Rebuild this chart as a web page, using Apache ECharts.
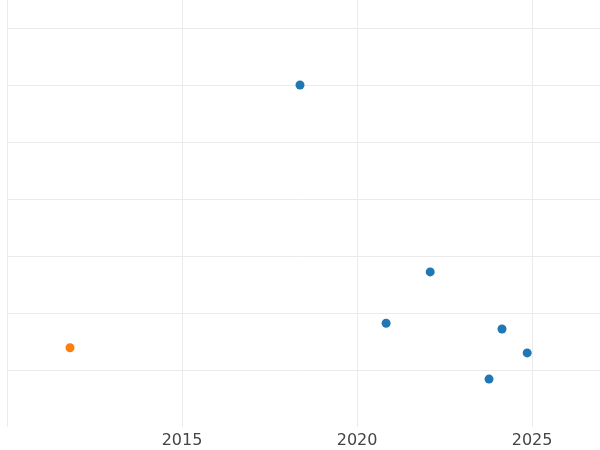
<!DOCTYPE html>
<html>
<head>
<meta charset="utf-8">
<script src="https://cdn.jsdelivr.net/npm/echarts@6/dist/echarts.min.js"></script>
<style>html,body{margin:0;padding:0;background:#fff}#chart{width:600px;height:450px}</style>
</head>
<body>
<div id="chart"></div>
<script>
// data
const blueYears = [2018.37, 2020.83, 2022.09, 2024.14, 2023.77, 2024.86];
const blueValues = [6.0, 1.82, 2.72, 1.72, 0.84, 1.30];
const orangeYears = [2011.8];
const orangeValues = [1.39];

let chart = echarts.init(document.getElementById("chart"));

const pairs = (xs, ys) => xs.map((x, i) => [x, ys[i]]);

chart.setOption({
    animation: false,
    grid: { left: 7, right: 0, top: 0, bottom: 23 },
    xAxis: {
        type: "value", min: 2010, max: 2026.94, interval: 5,
        axisLine: { show: false }, axisTick: { show: false },
        splitLine: { showMaxLine: false, lineStyle: { color: "#ebebeb" } },
        axisLabel: {
            showMinLabel: false, showMaxLabel: false, color: "#444",
            fontSize: 16, fontFamily: "DejaVu Sans", margin: 6,
            formatter: v => String(v)
        }
    },
    yAxis: {
        type: "value", min: 0, max: 7.49, interval: 1,
        axisLine: { show: false }, axisTick: { show: false },
        axisLabel: { show: false },
        splitLine: { showMinLine: false, showMaxLine: false, lineStyle: { color: "#ebebeb" } }
    },
    series: [
        { type: "scatter", data: pairs(blueYears, blueValues), symbolSize: 9, itemStyle: { color: "#1f77b4", opacity: 1 } },
        { type: "scatter", data: pairs(orangeYears, orangeValues), symbolSize: 9, itemStyle: { color: "#ff7f0e", opacity: 1 } }
    ]
});
</script>
</body>
</html>
